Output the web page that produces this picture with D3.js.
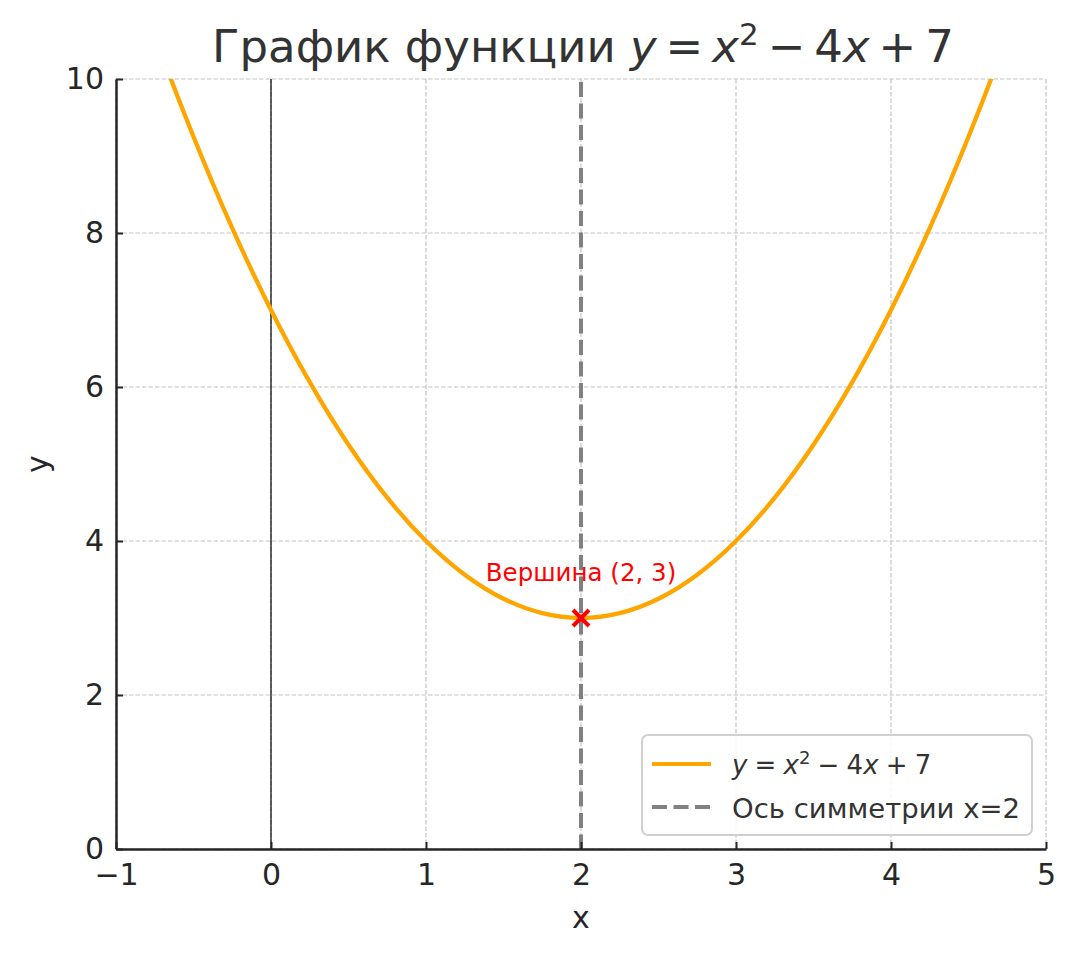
<!DOCTYPE html>
<html><head><meta charset="utf-8">
<script src="https://cdn.jsdelivr.net/npm/d3@7"></script>
<style>body{margin:0;background:#fff}svg{display:block;font-family:"DejaVu Sans",sans-serif}</style>
</head><body><svg id="c" width="1076" height="956"></svg>
<script>
const curveX = [-1,-0.75,-0.5,-0.25,0,0.25,0.5,0.75,1,1.25,1.5,1.75,2,2.25,2.5,2.75,3,3.25,3.5,3.75,4,4.25,4.5,4.75,5];
const curveY = [12,10.5625,9.25,8.0625,7,6.0625,5.25,4.5625,4,3.5625,3.25,3.0625,3,3.0625,3.25,3.5625,4,4.5625,5.25,6.0625,7,8.0625,9.25,10.5625,12];
const xTicks = [-1,0,1,2,3,4,5];
const yTicks = [0,2,4,6,8,10];
const vertex = [2,3];
const symX = 2;

const svg = d3.select("#c");
const L=116,R=1046,T=79,B=849;
const x = d3.scaleLinear().domain([-1,5]).range([L,R]);
const y = d3.scaleLinear().domain([0,10]).range([B,T]);
const ink="#262626";
const TS="\u2009";

svg.append("defs").append("clipPath").attr("id","clip")
  .append("rect").attr("x",L).attr("y",T).attr("width",R-L).attr("height",B-T);

// grid
const g = svg.append("g");
g.selectAll(".gx").data(xTicks).join("line")
  .attr("x1",d=>x(d)).attr("x2",d=>x(d)).attr("y1",T).attr("y2",B)
  .attr("stroke","#c4c4c4").attr("stroke-width",1.2).attr("stroke-dasharray","4.5,2");
g.selectAll(".gy").data(yTicks).join("line")
  .attr("x1",L).attr("x2",R).attr("y1",d=>y(d)).attr("y2",d=>y(d))
  .attr("stroke","#c4c4c4").attr("stroke-width",1.2).attr("stroke-dasharray","4.5,2");

// x=0 line
svg.append("line").attr("x1",x(0)).attr("x2",x(0)).attr("y1",T).attr("y2",B)
  .attr("stroke","#000").attr("stroke-width",1.2);

// curve
const pts = curveX.map((d,i)=>[d,curveY[i]]);
svg.append("path").datum(pts).attr("clip-path","url(#clip)")
  .attr("d",d3.line().x(d=>x(d[0])).y(d=>y(d[1])).curve(d3.curveNatural))
  .attr("fill","none").attr("stroke","#FFA500").attr("stroke-width",4.3);

// symmetry line
svg.append("line").attr("x1",x(symX)).attr("x2",x(symX)).attr("y1",T).attr("y2",B)
  .attr("stroke","#808080").attr("stroke-width",4).attr("stroke-dasharray","15,6.5")
  .attr("stroke-dashoffset",-3);

// vertex marker
const vx=x(vertex[0]), vy=y(vertex[1]), s=8;
svg.append("path").attr("d",`M${vx-s},${vy-s}L${vx+s},${vy+s}M${vx-s},${vy+s}L${vx+s},${vy-s}`)
  .attr("stroke","#ff0000").attr("stroke-width",4);
svg.append("text").attr("x",vx).attr("y",vy-37).attr("text-anchor","middle")
  .attr("fill","#ff0000").attr("font-size",24.5).text("Вершина (2, 3)");

// axes (ticks inward)
const xa = svg.append("g").attr("transform",`translate(0,${B})`)
  .call(d3.axisBottom(x).tickValues(xTicks).tickSizeInner(-7).tickSizeOuter(0).tickPadding(15)
    .tickFormat(d=>d<0?"\u2212"+Math.abs(d):d));
xa.select(".domain").attr("stroke",ink).attr("stroke-width",2.5);
xa.selectAll(".tick line").attr("stroke",ink).attr("stroke-width",2);
xa.selectAll("text").attr("font-size",30).attr("fill",ink).attr("font-family","DejaVu Sans");

const ya = svg.append("g").attr("transform",`translate(${L},0)`)
  .call(d3.axisLeft(y).tickValues(yTicks).tickSizeInner(-7).tickSizeOuter(0).tickPadding(12));
ya.select(".domain").attr("stroke",ink).attr("stroke-width",2.5);
ya.selectAll(".tick line").attr("stroke",ink).attr("stroke-width",2);
ya.selectAll("text").attr("font-size",30).attr("fill",ink).attr("font-family","DejaVu Sans");

// axis labels
svg.append("text").attr("x",(L+R)/2).attr("y",928).attr("text-anchor","middle")
  .attr("font-size",30).attr("fill",ink).text("x");
svg.append("text").attr("transform",`translate(48,${(T+B)/2}) rotate(-90)`).attr("text-anchor","middle")
  .attr("font-size",30).attr("fill",ink).text("y");

// title
const t = svg.append("text").attr("x",(L+R)/2+2).attr("y",62).attr("text-anchor","middle")
  .attr("font-size",45).attr("fill","#333333");
t.append("tspan").text("График функции ");
t.append("tspan").attr("font-style","italic").text("y");
t.append("tspan").text(TS+"="+TS);
t.append("tspan").attr("font-style","italic").text("x");
t.append("tspan").attr("font-size",31).attr("dy",-17).text("2");
t.append("tspan").attr("dy",17).text(TS+"\u2212"+TS+"4");
t.append("tspan").attr("font-style","italic").text("x");
t.append("tspan").text(TS+"+"+TS+"7");

// legend
const lg = svg.append("g");
lg.append("rect").attr("x",642).attr("y",735).attr("width",390).attr("height",100).attr("rx",6)
  .attr("fill","#fff").attr("fill-opacity",0.85).attr("stroke","#d0d0d0").attr("stroke-width",2);
lg.append("line").attr("x1",652).attr("x2",711).attr("y1",764).attr("y2",764)
  .attr("stroke","#FFA500").attr("stroke-width",4);
lg.append("line").attr("x1",652).attr("x2",711).attr("y1",807).attr("y2",807)
  .attr("stroke","#808080").attr("stroke-width",4).attr("stroke-dasharray","15,6.5");
const l1 = lg.append("text").attr("x",732).attr("y",774).attr("font-size",26).attr("fill","#333333");
l1.append("tspan").attr("font-style","italic").text("y");
l1.append("tspan").attr("dx",2).text(TS+"="+TS);
l1.append("tspan").attr("dx",2).attr("font-style","italic").text("x");
l1.append("tspan").attr("font-size",18).attr("dy",-10).text("2");
l1.append("tspan").attr("dy",10).attr("dx",2).text(TS+"\u2212"+TS);
l1.append("tspan").attr("dx",2).text("4");
l1.append("tspan").attr("font-style","italic").text("x");
l1.append("tspan").attr("dx",2).text(TS+"+"+TS);
l1.append("tspan").attr("dx",2).text("7");
lg.append("text").attr("x",732).attr("y",818).attr("font-size",26).attr("fill","#333333")
  .attr("textLength",288).attr("lengthAdjust","spacingAndGlyphs")
  .text("Ось симметрии x=2");
</script></body></html>
